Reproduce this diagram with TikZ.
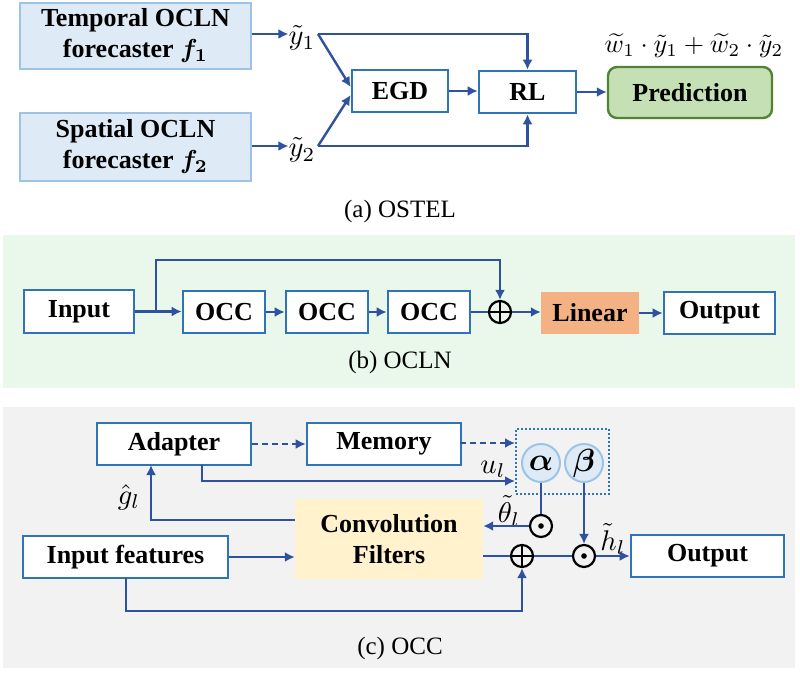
\documentclass[tikz,border=0pt]{standalone}
\usepackage{fontspec}
\setmainfont{Liberation Serif}
\usepackage{bm}
\usepackage{graphicx}
\usetikzlibrary{arrows.meta,calc}
\definecolor{lineblue}{HTML}{2F52A0}
\definecolor{boxblue}{HTML}{2E75B6}
\definecolor{lightfill}{HTML}{DEEBF7}
\definecolor{lightborder}{HTML}{9DC3E6}
\definecolor{predfill}{HTML}{C5E0B4}
\definecolor{predborder}{HTML}{548235}
\definecolor{linfill}{HTML}{F4B183}
\definecolor{convfill}{HTML}{FFF2CC}
\definecolor{greenbg}{HTML}{EAF8EC}
\definecolor{graybg}{HTML}{F2F2F2}
\newcommand{\mlb}[2][2.85]{\scalebox{#1}{\normalsize$#2$}}
\tikzset{
  bfont/.style={font=\fontsize{26}{31}\selectfont\bfseries},
  wbox/.style={bfont,draw=boxblue,line width=2.6pt,fill=white,inner sep=0pt,align=center},
  lbbox/.style={bfont,draw=lightborder,line width=2.6pt,fill=lightfill,inner sep=0pt,align=center},
  captxt/.style={font=\fontsize{25}{30}\selectfont},
  mlab/.style={inner sep=0pt},
  ln/.style={draw=lineblue,line width=2.4pt},
  arr/.style={ln,-{Latex[length=10pt,width=10pt]}},
  darr/.style={arr,dash pattern=on 6pt off 4pt},
  opc/.style={circle,draw=black,line width=2.2pt,minimum size=22pt,inner sep=0pt},
  gcirc/.style={circle,draw=lightborder,line width=2pt,fill=lightfill,minimum size=38pt,inner sep=0pt}
}
\begin{document}
\begin{tikzpicture}[x=1pt,y=-1pt]
\useasboundingbox (0,0) rectangle (800,673);
% ---------------- (a) ----------------
\node[lbbox,minimum width=231pt,minimum height=66pt] (temp) at (135.5,36) {Temporal OCLN\\forecaster \mlb[2.6]{\bm{f}_{\bm{1}}}};
\node[lbbox,minimum width=231pt,minimum height=68pt] (spat) at (135.5,147) {Spatial OCLN\\forecaster \mlb[2.6]{\bm{f}_{\bm{2}}}};
\node[mlab] (y1) at (302,38) {\mlb{\tilde{y}_1}};
\node[mlab] (y2) at (302,150) {\mlb{\tilde{y}_2}};
\coordinate (y1s) at (318,34);
\coordinate (y2s) at (318,146);
\node[wbox,minimum width=96pt,minimum height=42pt] (egd) at (400,91) {EGD};
\node[wbox,minimum width=97pt,minimum height=42pt] (rl) at (527.5,92) {RL};
\node[bfont,draw=predborder,line width=2.4pt,fill=predfill,rounded corners=9pt,minimum width=164pt,minimum height=51pt,inner sep=0pt] (pred) at (690,92.5) {Prediction};
\node[mlab] (form) at (694,46) {\mlb[2.6]{\widetilde{w}_1\cdot\tilde{y}_1+\widetilde{w}_2\cdot\tilde{y}_2}};
\node[captxt] (capa) at (400,211) {(a) OSTEL};
\draw[arr] (temp.east |- y1s) -- (y1.west |- y1s);
\draw[arr] (spat.east |- y2s) -- (y2.west |- y2s);
\draw[arr] (y1s) -| (rl.north);
\draw[arr] (y2s) -| (rl.south);
\draw[arr] (y1s) -- ($(egd.west)+(0,-4)$);
\draw[arr] (y2s) -- ($(egd.west)+(0,4)$);
\draw[arr] (egd.east) -- (rl.west |- egd.east);
\draw[arr] (rl.east) -- (pred.west |- rl.east);
% ---------------- (b) ----------------
\fill[greenbg] (3,235) rectangle (795,388);
\node[wbox,minimum width=110pt,minimum height=43pt] (inp) at (79,311.5) {Input};
\node[wbox,minimum width=82pt,minimum height=42pt] (occ1) at (224,312) {OCC};
\node[wbox,minimum width=82pt,minimum height=42pt] (occ2) at (327,312) {OCC};
\node[wbox,minimum width=82pt,minimum height=42pt] (occ3) at (429,312) {OCC};
\node[opc] (pl1) at (500,312) {};
\draw[line width=2.2pt] (pl1.north) -- (pl1.south) (pl1.west) -- (pl1.east);
\node[bfont,fill=linfill,minimum width=98pt,minimum height=42pt,inner sep=0pt] (lin) at (590,313) {Linear};
\node[wbox,minimum width=111pt,minimum height=42pt] (outb) at (719.5,313) {Output};
\node[captxt] (capb) at (400,362) {(b) OCLN};
\coordinate (br) at (156,311.5);
\coordinate (brt) at (156,260);
\draw[ln] (inp.east) -- (br);
\draw[arr] (br) -- (occ1.west |- br);
\draw[arr] (br) -- (brt) -| (pl1.north);
\draw[arr] (occ1) -- (occ2);
\draw[arr] (occ2) -- (occ3);
\draw[ln] (occ3.east) -- (pl1.west);
\draw[arr] (pl1.east) -- (lin.west |- pl1.east);
\draw[arr] (lin.east) -- (outb.west |- lin.east);
% ---------------- (c) ----------------
\fill[graybg] (3,407) rectangle (795,668);
\node[wbox,minimum width=154pt,minimum height=42pt] (adp) at (174,444) {Adapter};
\node[wbox,minimum width=154pt,minimum height=42pt] (mem) at (384,444) {Memory};
\node[draw=boxblue,line width=2.4pt,dash pattern=on 2pt off 2pt,minimum width=93pt,minimum height=65pt,inner sep=0pt] (grp) at (562.5,461.5) {};
\node[gcirc] (al) at (541,463) {\mlb[3.2]{\bm{\alpha}}};
\node[gcirc] (be) at (584,463) {\mlb[3.2]{\bm{\beta}}};
\node[opc] (od1) at (541,526) {};
\fill (od1.center) circle (2.8pt);
\node[bfont,fill=convfill,minimum width=188pt,minimum height=80pt,inner sep=0pt,align=center] (conv) at (389,539) {Convolution\\Filters};
\node[wbox,minimum width=205pt,minimum height=42pt] (inf) at (125.5,557) {Input features};
\node[opc] (pl2) at (522,556) {};
\draw[line width=2.2pt] (pl2.north) -- (pl2.south) (pl2.west) -- (pl2.east);
\node[opc] (od2) at (584,556) {};
\fill (od2.center) circle (2.8pt);
\node[wbox,minimum width=153pt,minimum height=42pt] (outc) at (707.5,556) {Output};
\node[captxt] (capc) at (400,648) {(c) OCC};
\node[mlab] (ul) at (493,469) {\mlb{u_l}};
\node[mlab] (th) at (509,511) {\mlb{\tilde{\theta}_l}};
\node[mlab] (gl) at (129,497) {\mlb{\hat{g}_l}};
\node[mlab] (hl) at (613,539) {\mlb{\tilde{h}_l}};
\coordinate (m1) at (460,443);
\coordinate (m2) at (515,443);
\coordinate (a1) at (202,465);
\coordinate (a2) at (202,481);
\coordinate (a3) at (515,481);
\coordinate (c1) at (295,520);
\coordinate (c2) at (151,520);
\coordinate (c3) at (151,465);
\coordinate (f1) at (126,578);
\coordinate (f2) at (126,611);
\draw[darr] (adp.east) -- (mem.west);
\draw[darr] (m1) -- (m2);
\draw[arr] (a1) -- (a2) -- (a3);
\draw[ln] (al.south) -- (od1.north);
\draw[arr] (od1.west) -- (conv.east |- od1.west);
\draw[arr] (c1) -- (c2) -- (c3);
\draw[arr] (inf.east) -- (conv.west |- inf.east);
\draw[ln] (conv.east |- pl2.west) -- (pl2.west);
\draw[ln] (pl2.east) -- (od2.west);
\draw[arr] (od2.east) -- (outc.west |- od2.east);
\draw[arr] (be.south) -- (od2.north);
\draw[arr] (f1) -- (f2) -| (pl2.south);
\end{tikzpicture}
\end{document}
